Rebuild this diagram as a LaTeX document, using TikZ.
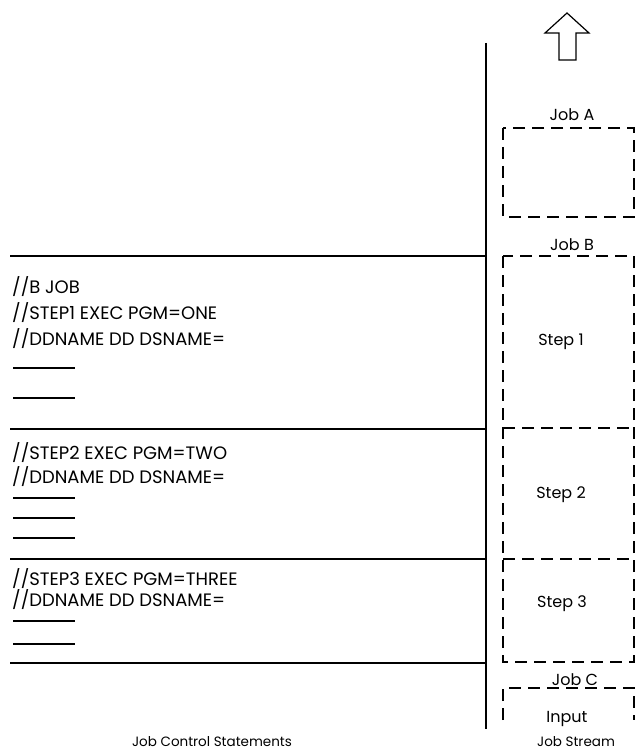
\documentclass[tikz,border=0pt]{standalone}
\usepackage{fontspec}
\setmainfont{Poppins}
\begin{document}
\begin{tikzpicture}[x=1pt,y=-1pt,
  rule/.style={line width=1.8pt},
  dashbox/.style={line width=1.3pt, dash pattern=on 12pt off 7pt},
  stub/.style={line width=1.2pt},
  jcl/.style={anchor=base west, inner sep=0pt, font=\fontsize{18}{20}\selectfont},
  lbl/.style={anchor=base, inner sep=0pt, font=\fontsize{16}{18}\selectfont},
  caption/.style={anchor=base, inner sep=0pt, font=\fontsize{13.5}{15}\selectfont}]
\useasboundingbox (0,0) rectangle (639,754);

% divider between columns
\coordinate (vtop) at (486,43);
\coordinate (vbot) at (486,729);
\draw[rule] (vtop) -- (vbot);

% horizontal rules of the job control statements
\foreach \n/\y in {r1/256, r2/429, r3/559, r4/663} {
  \coordinate (\n L) at (10,\y);
  \coordinate (\n R) at (486,\y);
  \draw[rule] (\n L) -- (\n R);
}

% statements
\node[jcl] (b1) at (12,293.3) {//B JOB};
\node[jcl] (b2) at (12,319.3) {//STEP1 EXEC PGM=ONE};
\node[jcl] (b3) at (12,345.3) {//DDNAME DD DSNAME=};
\node[jcl] (c1) at (12,459.3) {//STEP2 EXEC PGM=TWO};
\node[jcl] (c2) at (12,483.3) {//DDNAME DD DSNAME=};
\node[jcl] (d1) at (12,585.3) {//STEP3 EXEC PGM=THREE};
\node[jcl] (d2) at (12,606.3) {//DDNAME DD DSNAME=};

\foreach \y in {368, 398, 498, 518, 538, 621, 644} {
  \draw[stub] (13,\y) -- (75,\y);
}

% job stream boxes
\draw[dashbox] (503,128) rectangle (634,217);
\draw[dashbox] (503,256) rectangle (634,662);
\draw[dashbox] (503,428) -- (634,428);
\draw[dashbox] (503,559) -- (634,559);
\draw[dashbox] (503,720) -- (503,688) -- (634,688) -- (634,720);

% arrow
\draw[line width=1.2pt, line join=miter] (567,13) -- (589,33) -- (576,33) -- (576,60)
  -- (559,60) -- (559,33) -- (545,33) -- cycle;

% labels
\node[lbl] (ja) at (572,120.6) {Job A};
\node[lbl] (jb) at (572,250.6) {Job B};
\node[lbl] (s1) at (561,345.6) {Step 1};
\node[lbl] (s2) at (561,498.6) {Step 2};
\node[lbl] (s3) at (562,607.6) {Step 3};
\node[lbl] (jc) at (575,685.6) {Job C};
\node[lbl] (in) at (567,722.6) {Input};
\node[caption] (js) at (576,746) {Job Stream};
\node[caption] (jcs) at (212,746) {Job Control Statements};
\end{tikzpicture}
\end{document}
